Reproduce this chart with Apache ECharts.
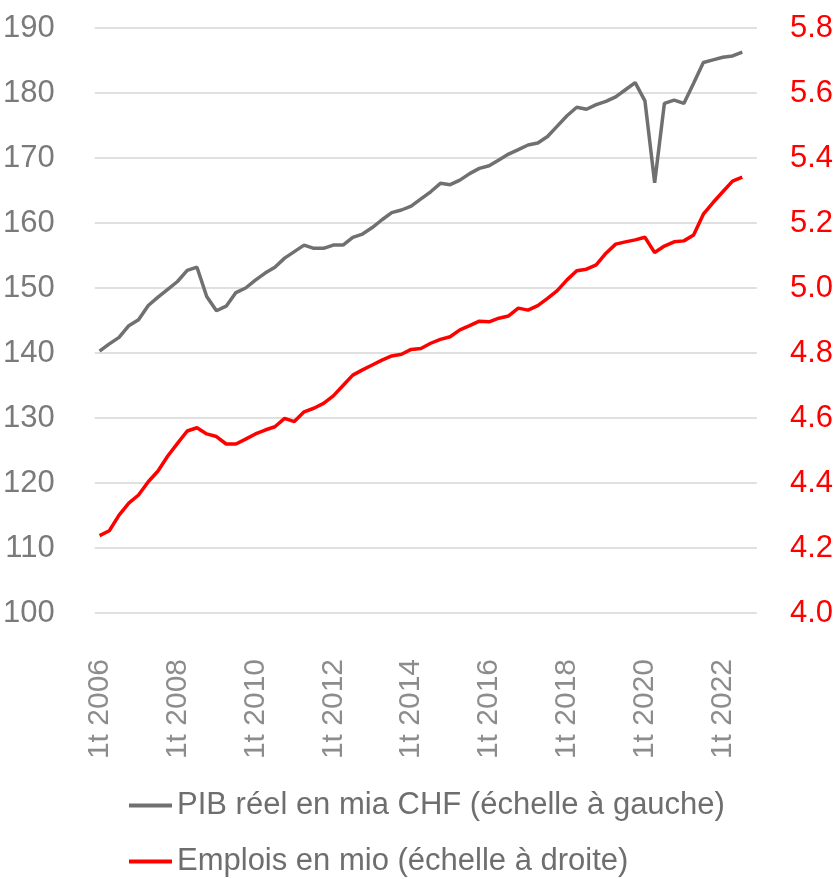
<!DOCTYPE html>
<html>
<head>
<meta charset="utf-8">
<script src="https://cdn.jsdelivr.net/npm/echarts@6/dist/echarts.min.js"></script>
<style>
  html, body { margin: 0; padding: 0; background: #fff; }
  #chart { width: 836px; height: 879px; }
</style>
</head>
<body>
<div id="chart"></div>
<script>
// quarters 1t 2006 .. 4t 2022 (last quarter has no data)
const years = [2006, 2007, 2008, 2009, 2010, 2011, 2012, 2013, 2014,
  2015, 2016, 2017, 2018, 2019, 2020, 2021, 2022]
const quarters = ['1t', '2t', '3t', '4t']

// PIB réel en mia CHF
const pib = [
  140.3, 141.4, 142.4, 144.2, 145.1, 147.3, 148.6, 149.8,
  151.0, 152.7, 153.2, 148.7, 146.5, 147.2, 149.3, 150.0,
  151.2, 152.3, 153.2, 154.6, 155.6, 156.6, 156.1, 156.1,
  156.6, 156.6, 157.8, 158.3, 159.3, 160.5, 161.6, 162.0,
  162.6, 163.7, 164.8, 166.1, 165.9, 166.6, 167.6, 168.4,
  168.8, 169.7, 170.6, 171.3, 172.0, 172.3, 173.3, 174.9,
  176.5, 177.8, 177.5, 178.2, 178.7, 179.4, 180.5, 181.6,
  178.8, 166.2, 178.4, 178.9, 178.4, 181.5, 184.7, 185.1,
  185.5, 185.7, 186.3
]

// Emplois en mio
const emplois = [
  4.238, 4.253, 4.301, 4.338, 4.363, 4.404, 4.437, 4.483,
  4.522, 4.560, 4.570, 4.551, 4.543, 4.520, 4.520, 4.535,
  4.551, 4.563, 4.573, 4.599, 4.589, 4.619, 4.630, 4.645,
  4.668, 4.700, 4.732, 4.748, 4.763, 4.778, 4.791, 4.796,
  4.811, 4.814, 4.830, 4.842, 4.850, 4.871, 4.884, 4.898,
  4.896, 4.907, 4.914, 4.938, 4.932, 4.946, 4.968, 4.992,
  5.025, 5.053, 5.058, 5.071, 5.107, 5.135, 5.142, 5.148,
  5.156, 5.109, 5.129, 5.142, 5.145, 5.163, 5.227, 5.263,
  5.296, 5.329, 5.341
]

const categories = []
years.forEach(y => quarters.forEach(q => categories.push(q + ' ' + y)))

const namePib = 'PIB réel en mia CHF (échelle à gauche)'
const nameEmplois = 'Emplois en mio (échelle à droite)'

const font = '"Liberation Sans Narrow", "Arial Narrow", "Liberation Sans", Arial, sans-serif'

const chart = echarts.init(document.getElementById('chart'))

// one legend per row, so each line sits where it does in the original
const legendRow = (name, top) => ({
  left: 124,
  top: top,
  itemWidth: 43,
  itemHeight: 4,
  icon: 'rect',
  textStyle: {
    fontFamily: font,
    fontSize: 31,
    color: '#6e6e6e'
  },
  data: [name]
})

const option = {
  animation: false,
  backgroundColor: '#fff',
  grid: {
    left: 93,
    right: 79,
    top: 28,
    bottom: 266
  },
  legend: [
    legendRow(namePib, 785),
    legendRow(nameEmplois, 841)
  ],
  xAxis: {
    type: 'category',
    data: categories,
    boundaryGap: true,
    axisLine: { show: false },
    axisTick: { show: false },
    axisLabel: {
      interval: 7,
      rotate: 90,
      margin: 46,
      fontFamily: font,
      fontSize: 30,
      color: '#8c8c8c'
    }
  },
  yAxis: [
    {
      type: 'value',
      min: 100,
      max: 190,
      interval: 10,
      axisLine: { show: false },
      axisTick: { show: false },
      axisLabel: {
        margin: 40,
        fontFamily: font,
        fontSize: 31,
        color: '#7a7a7a'
      },
      splitLine: { lineStyle: { color: '#e0e0e0', width: 2 } }
    },
    {
      type: 'value',
      min: 4.0,
      max: 5.8,
      interval: 0.2,
      position: 'right',
      axisLine: { show: false },
      axisTick: { show: false },
      splitLine: { show: false },
      axisLabel: {
        margin: 33,
        fontFamily: font,
        fontSize: 31,
        color: '#ff0000',
        formatter: v => v.toFixed(1)
      }
    }
  ],
  series: [
    {
      name: namePib,
      type: 'line',
      yAxisIndex: 0,
      symbol: 'none',
      itemStyle: { color: '#707070' },
      lineStyle: { color: '#707070', width: 3.5 },
      data: pib
    },
    {
      name: nameEmplois,
      type: 'line',
      yAxisIndex: 1,
      symbol: 'none',
      itemStyle: { color: '#ff0000' },
      lineStyle: { color: '#ff0000', width: 3.5 },
      data: emplois
    }
  ]
}

chart.setOption(option)
</script>
</body>
</html>
